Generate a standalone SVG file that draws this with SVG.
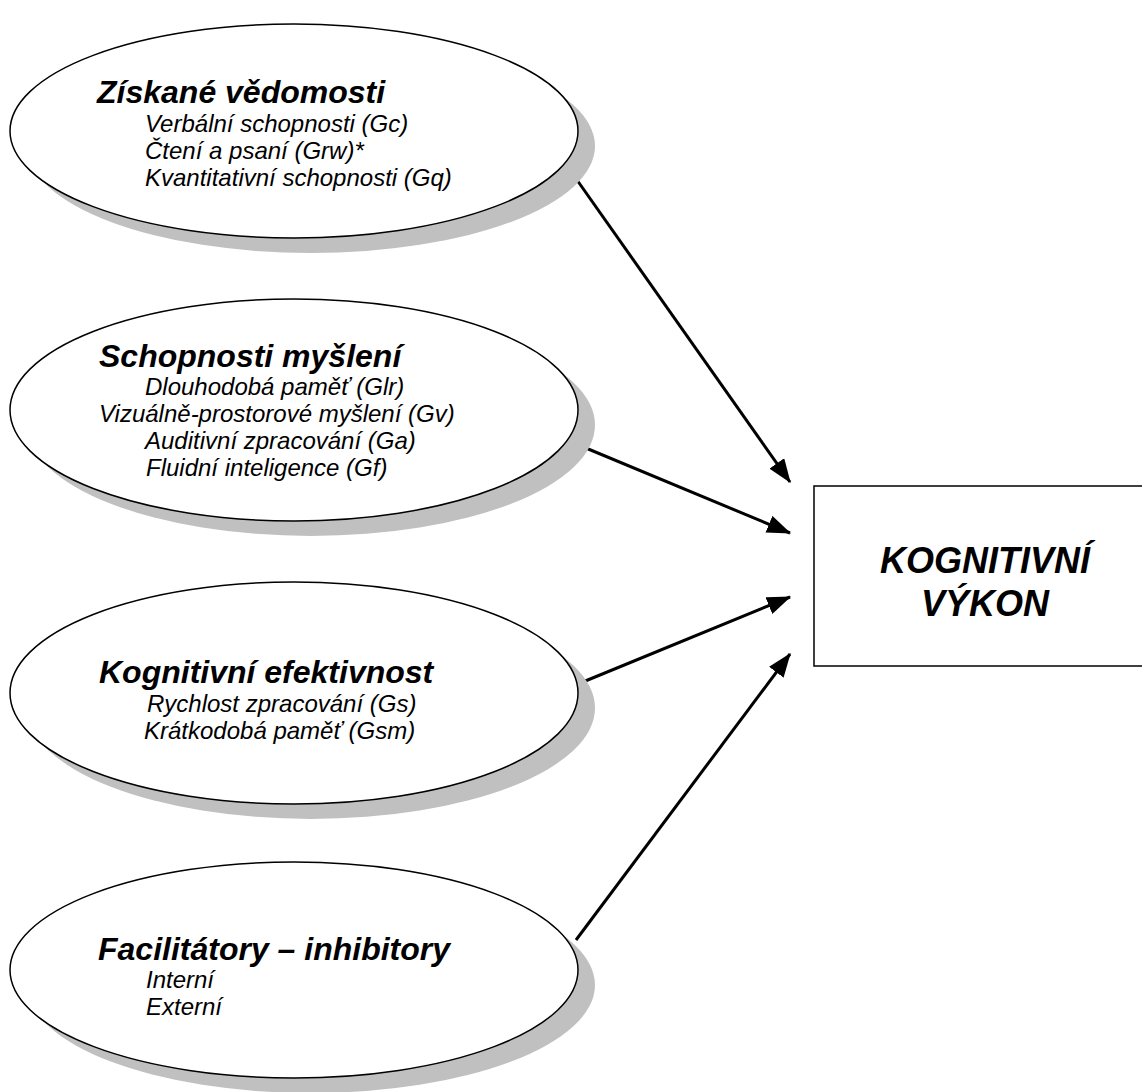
<svg xmlns="http://www.w3.org/2000/svg" width="1142" height="1092" viewBox="0 0 1142 1092">
<defs>
<style>
.sh{fill:#c0c0c0;stroke:none}
.el{fill:#fff;stroke:#000;stroke-width:1.5}
.t{font-family:"Liberation Sans",Arial,sans-serif;font-style:italic;font-weight:bold;font-size:32px;fill:#000}
.b{font-family:"Liberation Sans",Arial,sans-serif;font-style:italic;font-weight:bold;font-size:36px;fill:#000}
.s{font-family:"Liberation Sans",Arial,sans-serif;font-style:italic;font-size:24px;fill:#000}
.c{stroke:#000;stroke-width:3;fill:none}
</style>
<marker id="ah" markerWidth="8" markerHeight="6" refX="7.6" refY="3" orient="auto" markerUnits="strokeWidth">
<path d="M0,0 L8,3 L0,6 z" fill="#000"/>
</marker>
</defs>
<rect width="1142" height="1092" fill="#fff"/>
<g id="connectors">
<line class="c" x1="565" y1="163" x2="790" y2="482" marker-end="url(#ah)"/>
<line class="c" x1="569" y1="441" x2="790" y2="533" marker-end="url(#ah)"/>
<line class="c" x1="578" y1="684" x2="790" y2="597" marker-end="url(#ah)"/>
<line class="c" x1="576" y1="940" x2="790" y2="654" marker-end="url(#ah)"/>
</g>
<g id="n1">
<ellipse class="sh" cx="311" cy="146" rx="284" ry="107"/>
<ellipse class="el" cx="294" cy="131" rx="284" ry="107"/>
<text class="t" x="97" y="103">Získané vědomosti</text>
<text class="s" x="145" y="132">Verbální schopnosti (Gc)</text>
<text class="s" x="145" y="159">Čtení a psaní (Grw)*</text>
<text class="s" x="145" y="186">Kvantitativní schopnosti (Gq)</text>
</g>
<g id="n2">
<ellipse class="sh" cx="311" cy="425" rx="284" ry="111"/>
<ellipse class="el" cx="294" cy="410" rx="284" ry="111"/>
<text class="t" x="99" y="367">Schopnosti myšlení</text>
<text class="s" x="145" y="395">Dlouhodobá paměť (Glr)</text>
<text class="s" x="99" y="422">Vizuálně-prostorové myšlení (Gv)</text>
<text class="s" x="145" y="449">Auditivní zpracování (Ga)</text>
<text class="s" x="146" y="476">Fluidní inteligence (Gf)</text>
</g>
<g id="n3">
<ellipse class="sh" cx="311" cy="708" rx="284" ry="111"/>
<ellipse class="el" cx="294" cy="693" rx="284" ry="111"/>
<text class="t" x="99" y="683">Kognitivní efektivnost</text>
<text class="s" x="147" y="712">Rychlost zpracování (Gs)</text>
<text class="s" x="144" y="739">Krátkodobá paměť (Gsm)</text>
</g>
<g id="n4">
<ellipse class="sh" cx="311" cy="985" rx="284" ry="108"/>
<ellipse class="el" cx="294" cy="970" rx="284" ry="108"/>
<text class="t" x="98" y="960">Facilitátory – inhibitory</text>
<text class="s" x="146" y="988">Interní</text>
<text class="s" x="146" y="1015">Externí</text>
</g>
<g id="n5">
<rect x="814" y="486" width="340" height="180" fill="#fff" stroke="#000" stroke-width="1.5"/>
<text class="b" x="985" y="573" text-anchor="middle">KOGNITIVNÍ</text>
<text class="b" x="985" y="616" text-anchor="middle">VÝKON</text>
</g>
</svg>
